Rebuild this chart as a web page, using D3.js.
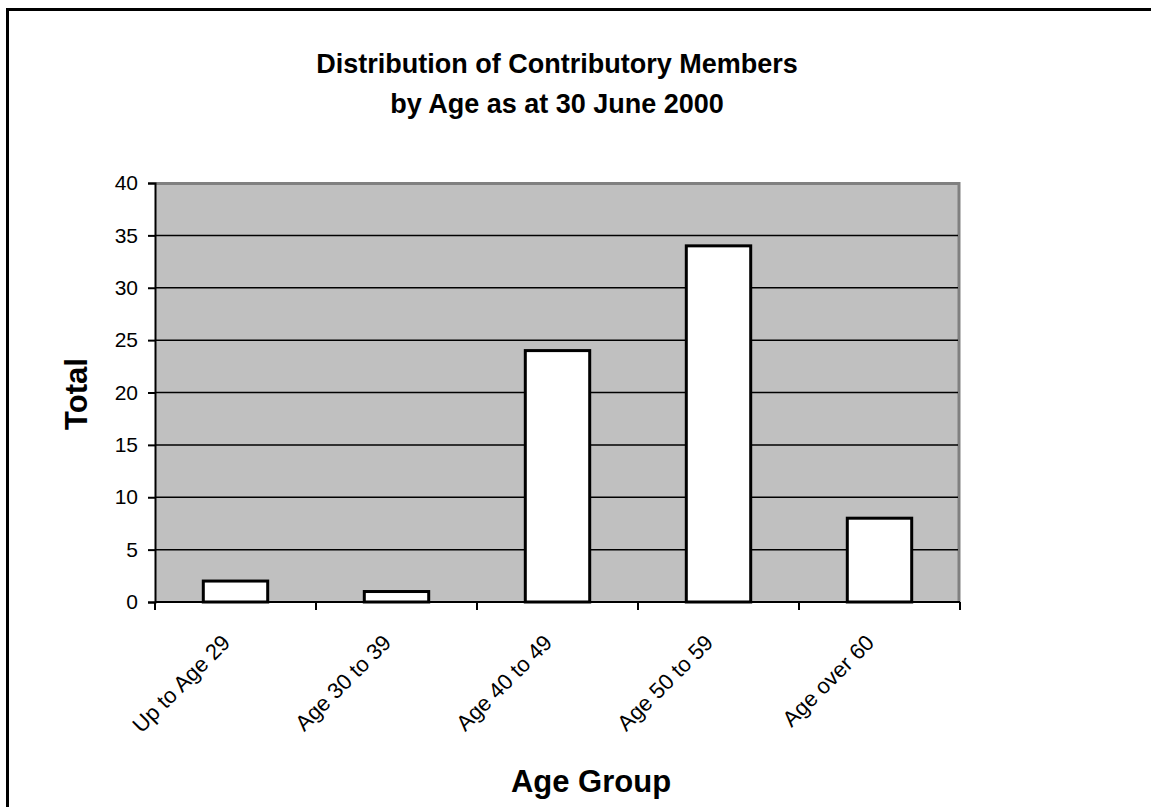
<!DOCTYPE html>
<html>
<head>
<meta charset="utf-8">
<script src="https://cdn.jsdelivr.net/npm/d3@7"></script>
<style>
  body { margin: 0; background: #fff; }
  svg { display: block; font-family: "Liberation Sans", Arial, sans-serif; }
</style>
</head>
<body>
<div id="chart"></div>
<script>
const categories = ["Up to Age 29", "Age 30 to 39", "Age 40 to 49", "Age 50 to 59", "Age over 60"];
const totals = [2, 1, 24, 34, 8];
const yTicks = [0, 5, 10, 15, 20, 25, 30, 35, 40];
const titleLines = ["Distribution of Contributory Members", "by Age as at 30 June 2000"];

const W = 1151, H = 807;
const m = { top: 183, right: 191, bottom: 205, left: 155 };
const innerW = W - m.left - m.right;
const innerH = H - m.top - m.bottom;

const svg = d3.select("#chart").append("svg")
  .attr("width", W).attr("height", H);

// outer chart border (runs off the right and bottom edges)
svg.append("rect")
  .attr("x", 7.5).attr("y", 9.5)
  .attr("width", W + 20).attr("height", H + 20)
  .attr("fill", "none").attr("stroke", "#000").attr("stroke-width", 3);

const x = d3.scaleBand().domain(categories).range([0, innerW]).paddingInner(0.6).paddingOuter(0.3);
const y = d3.scaleLinear().domain([0, 40]).range([innerH, 0]);

const g = svg.append("g").attr("transform", `translate(${m.left},${m.top})`);

g.append("rect")
  .attr("width", innerW).attr("height", innerH)
  .attr("fill", "#c0c0c0");

// top and right plot border
g.append("path")
  .attr("d", `M0,0.5H${innerW - 1}V${innerH}`)
  .attr("fill", "none").attr("stroke", "#808080").attr("stroke-width", 3);

// gridlines
g.selectAll(".grid").data(yTicks.filter(t => t > 0 && t < 40)).enter().append("line")
  .attr("x1", 0).attr("x2", innerW - 2)
  .attr("y1", d => y(d)).attr("y2", d => y(d))
  .attr("stroke", "#000").attr("stroke-width", 1.5);

// bars
g.selectAll(".bar").data(totals).enter().append("rect")
  .attr("x", (d, i) => x(categories[i]))
  .attr("y", d => y(d))
  .attr("width", x.bandwidth())
  .attr("height", d => innerH - y(d))
  .attr("fill", "#fff").attr("stroke", "#000").attr("stroke-width", 3);

// y axis
const yAxis = g.append("g")
  .call(d3.axisLeft(y).tickValues(yTicks).tickSize(7).tickPadding(10));
yAxis.select(".domain").attr("stroke-width", 2);
yAxis.selectAll(".tick line").attr("stroke-width", 2);
yAxis.selectAll("text").style("font-size", "21px").attr("fill", "#000");

// x axis: ticks at band boundaries
const xb = d3.scaleLinear().domain([0, categories.length]).range([0, innerW]);
const xAxis = g.append("g").attr("transform", `translate(0,${innerH})`);
xAxis.append("line")
  .attr("x1", 0).attr("x2", innerW)
  .attr("stroke", "#000").attr("stroke-width", 2);
xAxis.selectAll(".xtick").data(d3.range(categories.length + 1)).enter().append("line")
  .attr("x1", d => xb(d)).attr("x2", d => xb(d))
  .attr("y1", 0).attr("y2", 8)
  .attr("stroke", "#000").attr("stroke-width", 2);
xAxis.selectAll(".xlabel").data(categories).enter().append("text")
  .attr("transform", d => `translate(${x(d) + x.bandwidth() / 2 - 4},${42}) rotate(-45)`)
  .attr("text-anchor", "end")
  .style("font-size", "22px")
  .text(d => d);

// titles
svg.selectAll(".title").data(titleLines).enter().append("text")
  .attr("x", 557).attr("y", (d, i) => 73 + i * 40)
  .attr("text-anchor", "middle")
  .style("font-size", "27px").style("font-weight", "bold")
  .text(d => d);

svg.append("text")
  .attr("x", 591).attr("y", 792)
  .attr("text-anchor", "middle")
  .style("font-size", "31px").style("font-weight", "bold")
  .text("Age Group");

svg.append("text")
  .attr("transform", "translate(87,394) rotate(-90)")
  .attr("text-anchor", "middle")
  .style("font-size", "31px").style("font-weight", "bold")
  .text("Total");
</script>
</body>
</html>
